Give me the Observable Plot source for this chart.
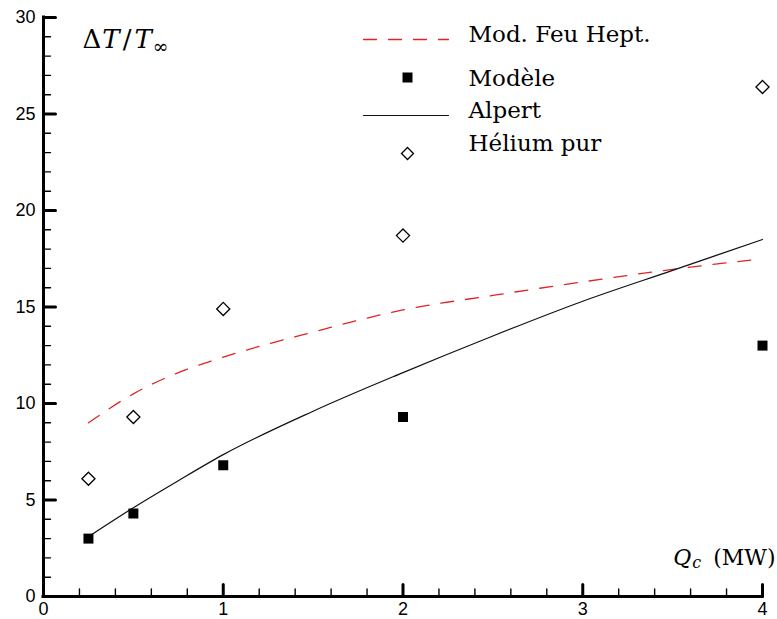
<!DOCTYPE html>
<html>
<head>
<meta charset="utf-8">
<script src="https://cdn.jsdelivr.net/npm/d3@7"></script>
<script src="https://cdn.jsdelivr.net/npm/@observablehq/plot@0.6"></script>
<style>
  html, body { margin: 0; padding: 0; background: #fff; }
  #chart svg { display: block; }
</style>
</head>
<body>
<div id="chart"></div>
<script>
// ---- data ----
const qModele = [0.25, 0.5, 1, 2, 4];
const dtModele = [3.0, 4.3, 6.8, 9.3, 13.0];

const qHelium = [0.25, 0.5, 1, 2, 4];
const dtHelium = [6.1, 9.3, 14.9, 18.7, 26.4];

const qAlpert = [0.25, 0.5, 0.75, 1, 1.5, 2, 2.5, 3, 3.5, 4];
const dtAlpert = [3.1, 4.6, 6.0, 7.35, 9.6, 11.6, 13.5, 15.3, 16.9, 18.5];

const qHept = [0.25, 0.5, 0.75, 1, 1.5, 2, 2.5, 3, 3.5, 4];
const dtHept = [9.0, 10.5, 11.6, 12.4, 13.7, 14.85, 15.6, 16.3, 16.95, 17.5];

const xMajorTicks = [0, 1, 2, 3, 4];
const xMinorTicks = [0.2, 0.4, 0.6, 0.8, 1.2, 1.4, 1.6, 1.8, 2.2, 2.4, 2.6, 2.8, 3.2, 3.4, 3.6, 3.8];
const yMajorTicks = [0, 5, 10, 15, 20, 25, 30];
const yMinorTicks = [1, 2, 3, 4, 6, 7, 8, 9, 11, 12, 13, 14, 16, 17, 18, 19, 21, 22, 23, 24, 26, 27, 28, 29];

const legendLabels = ["Mod. Feu Hept.", "Modèle", "Alpert", "Hélium pur"];
const yLabelText = "ΔT/T∞";
const xLabelText = "Qc (MW)";

const zip = (xs, ys) => xs.map((x, i) => ({x, y: ys[i]}));
const modele = zip(qModele, dtModele);
const helium = zip(qHelium, dtHelium);
const alpert = zip(qAlpert, dtAlpert);
const hept = zip(qHept, dtHept);

const red = "#e02424";
const serif = "'DejaVu Serif', 'Liberation Serif', serif";
const lineShape = { draw(ctx, l) { ctx.moveTo(0, 0); ctx.lineTo(0, -l); } };

const legendText = (i, dy) => Plot.text([legendLabels[i]], {
  frameAnchor: "top-left", dx: 425, dy, text: d => d,
  textAnchor: "start", lineAnchor: "bottom", fontFamily: serif, fontSize: 23
});

const chart = Plot.plot({
  width: 777,
  height: 619,
  marginLeft: 43,
  marginRight: 15,
  marginTop: 17,
  marginBottom: 23,
  x: { domain: [0, 4] },
  y: { domain: [0, 30] },
  style: { fontFamily: "'Liberation Sans', Arial, sans-serif", fontSize: "18px", color: "black", background: "white", overflow: "visible" },
  marks: [
    // data
    Plot.line(hept, { x: "x", y: "y", stroke: red, strokeWidth: 1.3, strokeDasharray: "13,12", curve: "monotone-x" }),
    Plot.line(alpert, { x: "x", y: "y", stroke: "#111", strokeWidth: 1.2, curve: "monotone-x" }),
    Plot.dot(modele, { x: "x", y: "y", symbol: "square", r: 5.64, fill: "black", stroke: "none" }),
    Plot.dot(helium, { x: "x", y: "y", symbol: "diamond2", r: 5.9, fill: "white", stroke: "black", strokeWidth: 1.3 }),

    // inward ticks (drawn as short vectors from the axis lines)
    Plot.vector(xMinorTicks, { x: d => d, frameAnchor: "bottom", length: 7.5, rotate: 0, anchor: "start", shape: lineShape, stroke: "black", strokeWidth: 1.4 }),
    Plot.vector(xMajorTicks, { x: d => d, frameAnchor: "bottom", length: 12, rotate: 0, anchor: "start", shape: lineShape, stroke: "black", strokeWidth: 3 }),
    Plot.vector(yMinorTicks, { y: d => d, frameAnchor: "left", length: 7, rotate: 90, anchor: "start", shape: lineShape, stroke: "black", strokeWidth: 1.4 }),
    Plot.vector(yMajorTicks, { y: d => d, frameAnchor: "left", length: 12, rotate: 90, anchor: "start", shape: lineShape, stroke: "black", strokeWidth: 3 }),

    // axis lines
    Plot.ruleX([0], { stroke: "black", strokeWidth: 3, strokeLinecap: "square" }),
    Plot.ruleY([0], { stroke: "black", strokeWidth: 3, strokeLinecap: "square" }),

    // tick labels
    Plot.axisX(xMajorTicks, { tickSize: 0, tickPadding: 6, label: null, tickFormat: d => String(d) }),
    Plot.axisY(yMajorTicks, { tickSize: 0, tickPadding: 8, label: null, tickFormat: d => String(d) }),

    // axis titles
    Plot.text([yLabelText], { frameAnchor: "top-left", dx: 39, dy: 30, text: d => d, textAnchor: "start", lineAnchor: "bottom", fontFamily: serif, fontSize: 26 }),
    Plot.text([xLabelText], { frameAnchor: "bottom-right", dx: 13, dy: -32, text: d => d, textAnchor: "end", lineAnchor: "bottom", fontFamily: serif, fontSize: 22 }),

    // legend
    Plot.vector([0], { frameAnchor: "top-left", dx: 320, dy: 22, length: 85, rotate: 90, anchor: "start", shape: lineShape, stroke: red, strokeWidth: 1.3, strokeDasharray: "13,12" }),
    Plot.dot([0], { frameAnchor: "top-left", dx: 364, dy: 60, symbol: "square", r: 5.64, fill: "black", stroke: "none" }),
    Plot.vector([0], { frameAnchor: "top-left", dx: 320, dy: 98, length: 85, rotate: 90, anchor: "start", shape: lineShape, stroke: "#111", strokeWidth: 1.2 }),
    Plot.dot([0], { frameAnchor: "top-left", dx: 364, dy: 136, symbol: "diamond2", r: 5.4, fill: "white", stroke: "black", strokeWidth: 1.3 }),
    legendText(0, 24),
    legendText(1, 68),
    legendText(2, 100),
    legendText(3, 133)
  ]
});

// math-style formatting of the axis titles
d3.select(chart).selectAll("text").each(function () {
  const s = this.textContent;
  const t = d3.select(this);
  if (s === yLabelText) {
    t.text(null);
    t.append("tspan").text("Δ");
    t.append("tspan").attr("font-style", "italic").attr("dx", 1).text("T");
    t.append("tspan").attr("dx", 3).text("/");
    t.append("tspan").attr("font-style", "italic").attr("dx", 3).text("T");
    t.append("tspan").attr("font-size", "72%").attr("dx", 1).attr("dy", "0.3em").text("∞");
  } else if (s === xLabelText) {
    t.text(null);
    t.append("tspan").attr("font-style", "italic").text("Q");
    t.append("tspan").attr("font-style", "italic").attr("font-size", "72%").attr("dx", 1).attr("dy", "0.25em").text("c");
    t.append("tspan").attr("dx", 5).attr("dy", "-0.18em").text(" (MW)");
  }
});

document.getElementById("chart").append(chart);
</script>
</body>
</html>
